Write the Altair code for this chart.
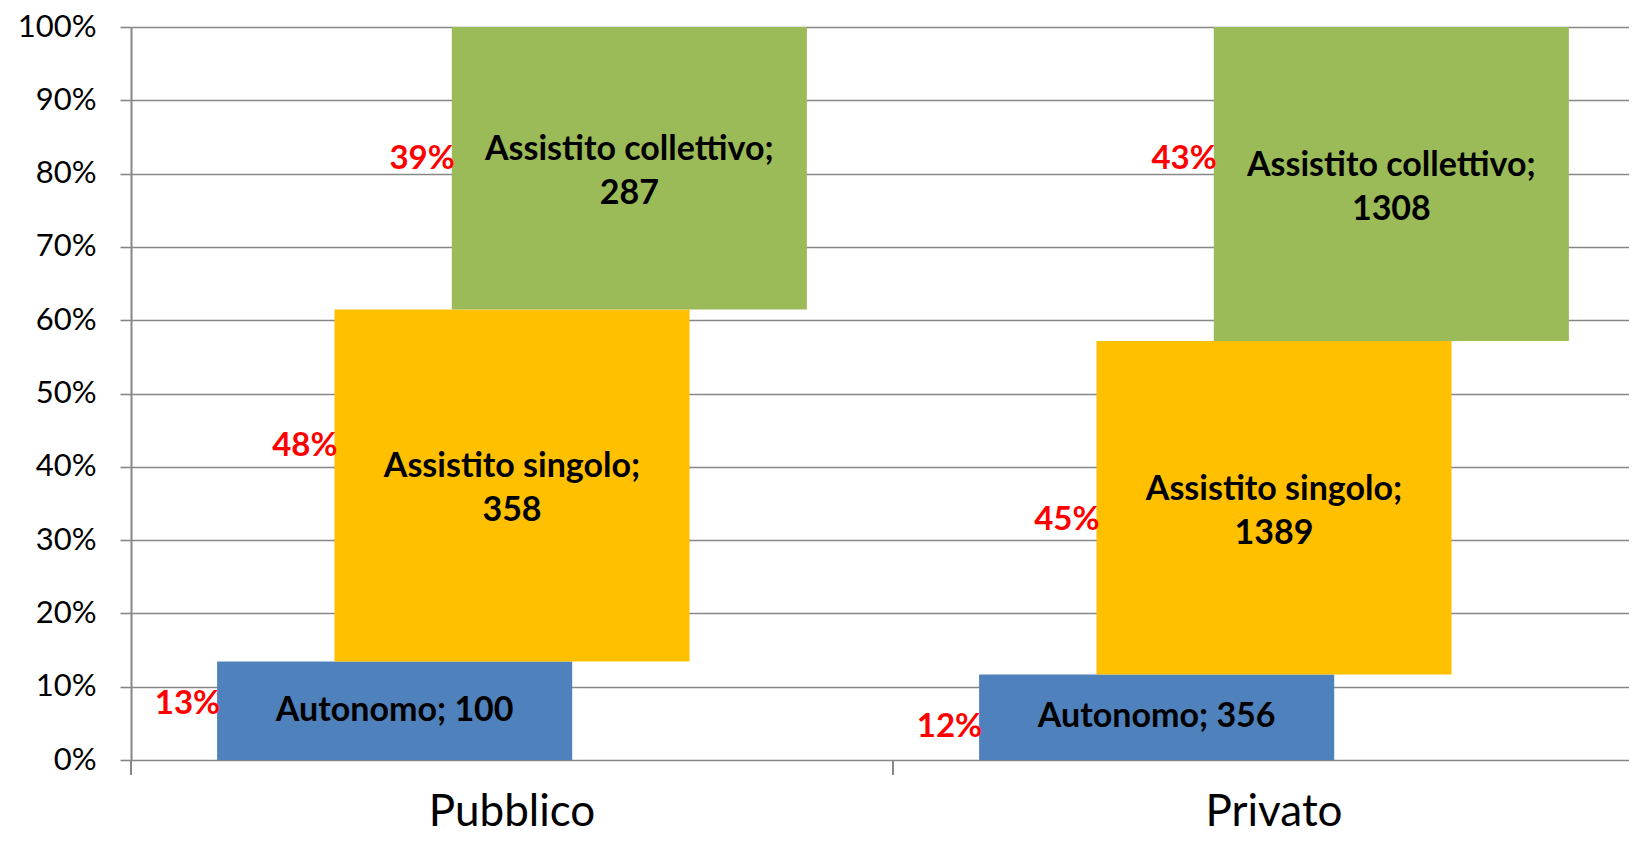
import altair as alt
import pandas as pd

# ---- data ----
categories = ["Pubblico", "Privato"]
series = ["Autonomo", "Assistito singolo", "Assistito collettivo"]
pubblico_counts = [100, 358, 287]
privato_counts = [356, 1389, 1308]
pubblico_pct_labels = ["13%", "48%", "39%"]
privato_pct_labels = ["12%", "45%", "43%"]
# height (share of the column) at which each red percentage label sits
pubblico_pct_label_pos = [0.076, 0.428, 0.82]
privato_pct_label_pos = [0.045, 0.327, 0.82]
colors = ["#4F81BD", "#FFC000", "#9BBB59"]

# ---- layout constants ----
PLOT_W, PLOT_H = 1498, 733
XMAX = PLOT_W / 762.0          # one category slot = 762 px
BAR_W = 0.466                  # bar width in category units
STEP = 0.154                   # horizontal stagger between segments
GRID = "#878787"
FONT = "Lato"
LINE_H = 44

counts_by_cat = [pubblico_counts, privato_counts]
pct_by_cat = [pubblico_pct_labels, privato_pct_labels]
pos_by_cat = [pubblico_pct_label_pos, privato_pct_label_pos]

rows = []
for ci, cat in enumerate(categories):
    counts = counts_by_cat[ci]
    total = sum(counts)
    cum = 0.0
    for si, s in enumerate(series):
        share = counts[si] / total
        center = ci + 0.5 + (si - 1) * STEP
        multi = si > 0
        label = f"{s};\n{counts[si]}" if multi else f"{s}; {counts[si]}"
        rows.append({
            "category": cat,
            "series": s,
            "x0": center - BAR_W / 2,
            "x1": center + BAR_W / 2,
            "xc": center,
            "y0": cum,
            "y1": cum + share,
            "ym": cum + share / 2,
            "label": label,
            "multi": multi,
            "pct": pct_by_cat[ci][si],
            "pct_y": pos_by_cat[ci][si],
        })
        cum += share
df = pd.DataFrame(rows)

cat_df = pd.DataFrame({"category": categories,
                       "cx": [i + 0.5 for i in range(len(categories))]})
sep_df = pd.DataFrame({"b": list(range(len(categories)))})

x_scale = alt.Scale(domain=[0, XMAX], nice=False, zero=False)
y_scale = alt.Scale(domain=[0, 1], nice=False, zero=True)
y_axis = alt.Axis(format=".0%", values=[i / 10 for i in range(11)],
                  grid=True, gridColor=GRID, gridWidth=1.6,
                  domain=True, domainColor=GRID, domainWidth=2,
                  ticks=True, tickColor=GRID, tickWidth=1.6, tickSize=11,
                  labelFont=FONT, labelFontSize=31, labelColor="black",
                  labelPadding=24, title=None)

bars = alt.Chart(df).mark_rect().encode(
    x=alt.X("x0:Q", scale=x_scale, axis=None),
    x2="x1:Q",
    y=alt.Y("y0:Q", scale=y_scale, axis=y_axis),
    y2="y1:Q",
    color=alt.Color("series:N", scale=alt.Scale(domain=series, range=colors), legend=None),
)

text_style = dict(font=FONT, fontSize=34, fontWeight="bold", color="black",
                  lineBreak="\n", lineHeight=LINE_H, align="center", baseline="middle")

inner_multi = alt.Chart(df).transform_filter("datum.multi").mark_text(
    dy=-LINE_H / 2 + 4, **text_style
).encode(
    x=alt.X("xc:Q", scale=x_scale, axis=None),
    y=alt.Y("ym:Q", scale=y_scale, axis=y_axis),
    text="label:N",
)

inner_single = alt.Chart(df).transform_filter("!datum.multi").mark_text(
    **text_style
).encode(
    x=alt.X("xc:Q", scale=x_scale, axis=None),
    y=alt.Y("ym:Q", scale=y_scale, axis=y_axis),
    text="label:N",
)

pcts = alt.Chart(df).mark_text(
    font=FONT, fontSize=33, fontWeight="bold", color="#FF0000",
    align="right", baseline="middle", dx=3,
).encode(
    x=alt.X("x0:Q", scale=x_scale, axis=None),
    y=alt.Y("pct_y:Q", scale=y_scale, axis=y_axis),
    text="pct:N",
)

cat_labels = alt.Chart(cat_df).mark_text(
    font=FONT, fontSize=44, color="black", align="center", baseline="alphabetic",
).encode(
    x=alt.X("cx:Q", scale=x_scale, axis=None),
    y=alt.value(PLOT_H + 66),
    text="category:N",
)

seps = alt.Chart(sep_df).mark_rule(color=GRID, strokeWidth=2).encode(
    x=alt.X("b:Q", scale=x_scale, axis=None),
    y=alt.value(PLOT_H),
    y2=alt.value(PLOT_H + 15),
)

chart = alt.layer(bars, seps, inner_multi, inner_single, pcts, cat_labels).properties(
    width=PLOT_W,
    height=PLOT_H,
    padding={"left": 123, "top": 19, "right": 0, "bottom": 73},
    autosize=alt.AutoSizeParams(type="none"),
).configure_view(stroke=None)

chart.save("out.html", embed_options={"renderer": "svg", "actions": False})
